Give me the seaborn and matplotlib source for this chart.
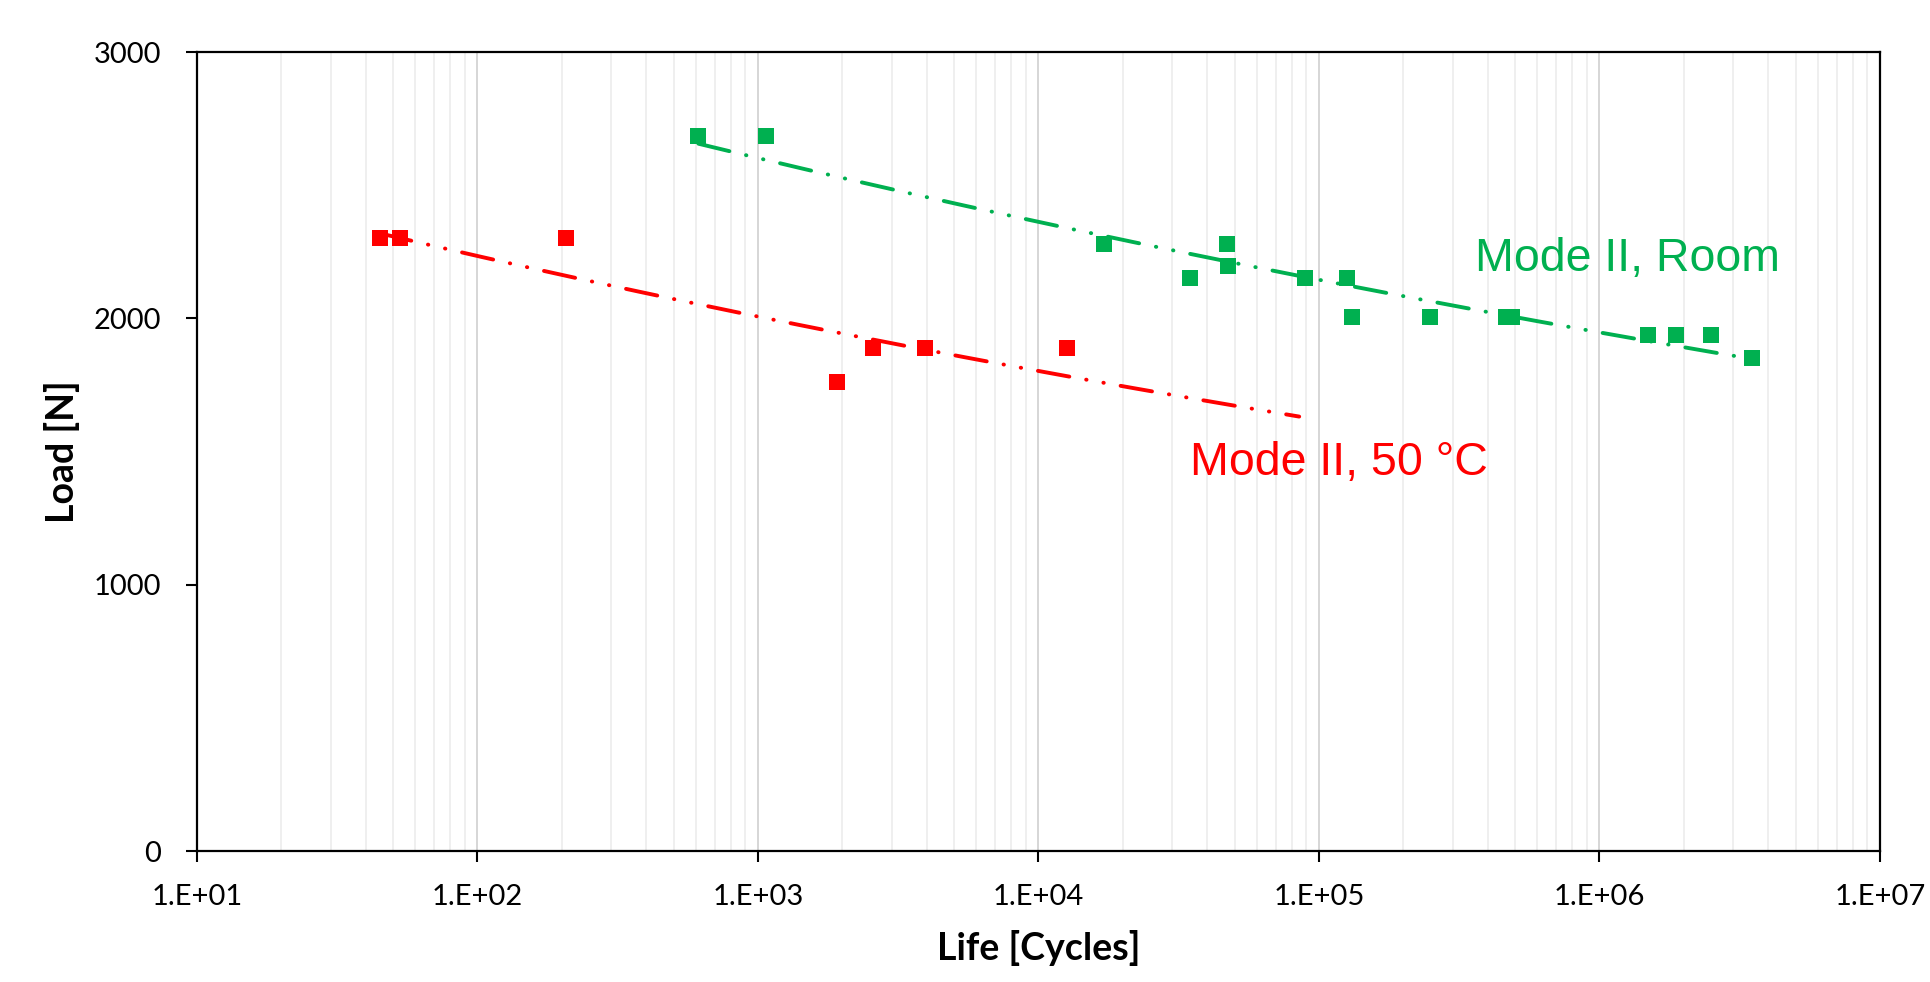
import numpy as np
import pandas as pd
import matplotlib
matplotlib.use("Agg")
import matplotlib.pyplot as plt
import seaborn as sns
from matplotlib.ticker import LogLocator, FixedLocator, FuncFormatter, NullFormatter

# ---- data ----
red_life = [45, 53, 207, 1920, 2560, 3940, 12600]
red_load = [2300, 2300, 2300, 1760, 1890, 1890, 1890]

green_life = [613, 1070, 17100, 34700, 46900, 47500, 89400, 125600, 131000,
              249000, 464000, 487000, 1.49e6, 1.88e6, 2.50e6, 3.51e6]
green_load = [2685, 2685, 2280, 2150, 2280, 2195, 2150, 2150, 2005,
              2005, 2005, 2005, 1937, 1937, 1937, 1850]

# extents of the power-law trendlines (as drawn in the reference)
red_fit_range = [45, 85000]
green_fit_range = [613, 3.51e6]

series_names = ["Mode II, 50 °C", "Mode II, Room"]
x_ticks = [1e1, 1e2, 1e3, 1e4, 1e5, 1e6, 1e7]
y_ticks = [0, 1000, 2000, 3000]

RED = "#FF0000"
GREEN = "#00B050"

sns.set_theme(style="white")
plt.rcParams['font.family'] = ['Lato', 'DejaVu Sans']

W, H = 1930, 982
fig = plt.figure(figsize=(W / 100, H / 100), dpi=100)
L, R, T, B = 197, 1880, 52, 851
ax = fig.add_axes([L / W, 1 - B / H, (R - L) / W, (B - T) / H])

df = pd.DataFrame({
    "life": red_life + green_life,
    "load": red_load + green_load,
    "series": [series_names[0]] * len(red_life) + [series_names[1]] * len(green_life),
})

ax.set_xscale("log")
sns.scatterplot(data=df, x="life", y="load", hue="series",
                palette={series_names[0]: RED, series_names[1]: GREEN},
                marker="s", s=133, linewidth=0, legend=False, ax=ax, zorder=3)

dash = (0, (8.2, 4.4, 0.1, 4.4, 0.1, 4.4))
for life, load, rng, col in [(red_life, red_load, red_fit_range, RED),
                             (green_life, green_load, green_fit_range, GREEN)]:
    b, a = np.polyfit(np.log(life), np.log(load), 1)
    xs = np.geomspace(rng[0], rng[1], 300)
    ys = np.exp(a) * xs ** b
    sns.lineplot(x=xs, y=ys, ax=ax, color=col, linewidth=2.8, linestyle=dash,
                 dash_capstyle="round", zorder=4)

ax.set_xlim(1e1, 1e7)
ax.set_ylim(0, 3000)
ax.xaxis.set_major_locator(FixedLocator(x_ticks))
ax.xaxis.set_major_formatter(FuncFormatter(lambda v, p: f"1.E+{int(round(np.log10(v))):02d}"))
ax.xaxis.set_minor_locator(LogLocator(base=10, subs=range(2, 10), numticks=100))
ax.xaxis.set_minor_formatter(NullFormatter())
ax.yaxis.set_major_locator(FixedLocator(y_ticks))

ax.grid(False)
ax.grid(which="major", axis="x", color="#CCCCCC", linewidth=1.1, zorder=0)
ax.grid(which="minor", axis="x", color="#EBEBEB", linewidth=1.1, zorder=0)
ax.set_axisbelow(True)

for sp in ax.spines.values():
    sp.set_color("black")
    sp.set_linewidth(1.6)

ax.tick_params(axis="both", which="major", direction="out", length=8, width=1.5,
               color="black", labelcolor="black", labelsize=21)
ax.tick_params(axis="x", which="major", pad=16, bottom=True)
ax.tick_params(axis="y", which="major", pad=18, left=True)
ax.tick_params(axis="x", which="minor", length=0)

ax.set_xlabel("Life [Cycles]", fontsize=27, fontweight="bold", color="black")
ax.set_ylabel("Load [N]", fontsize=27, fontweight="bold", color="black")
ax.xaxis.set_label_coords(0.5, (B - 930) / (B - T))
ax.yaxis.set_label_coords((80 - L) / (R - L), 0.5)

ax.text(3.6e5, 2179, "Mode II, Room", color=GREEN, fontsize=33.5,
        family=["Liberation Sans", "DejaVu Sans"], va="baseline", ha="left", zorder=5)
ax.text(34700, 1412, "Mode II, 50 °C", color=RED, fontsize=33.5,
        family=["Liberation Sans", "DejaVu Sans"], va="baseline", ha="left", zorder=5)

fig.savefig("out.png", dpi=100, facecolor="white")
